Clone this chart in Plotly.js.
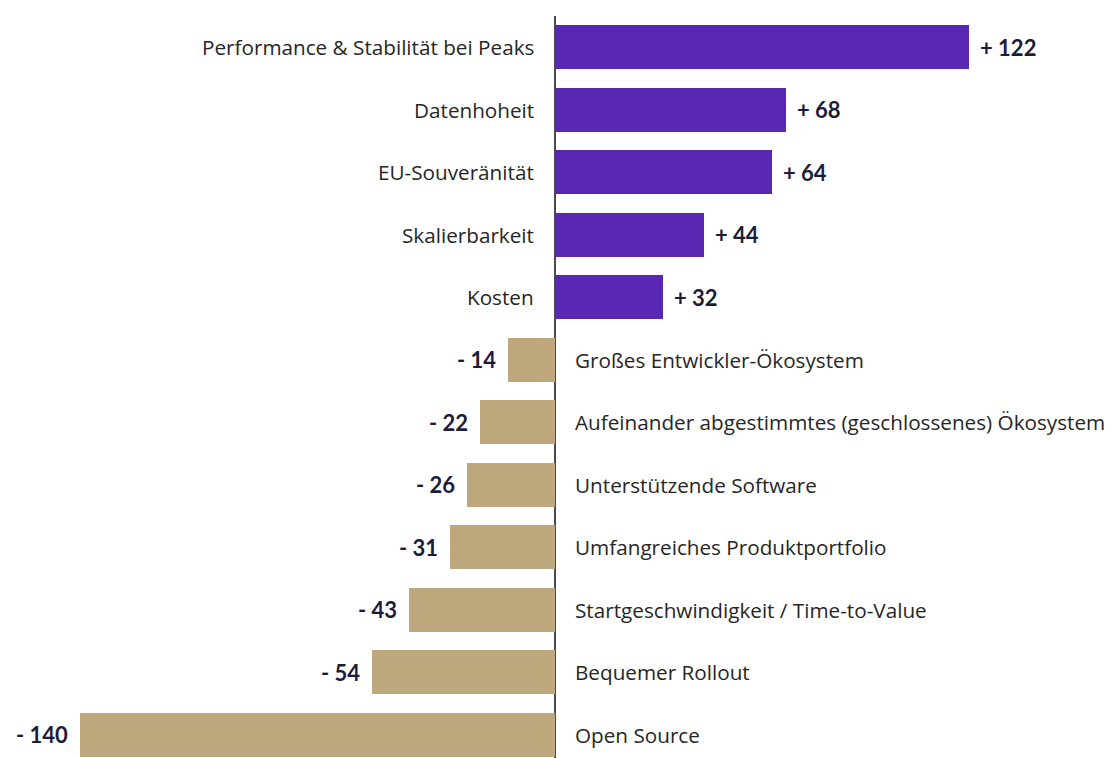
<!DOCTYPE html>
<html>
<head>
<meta charset="utf-8">
<script src="https://cdn.plot.ly/plotly-3.0.1.min.js"></script>
<style>html,body{margin:0;padding:0;background:#fff;}#chart{width:1112px;height:758px;}</style>
</head>
<body>
<div id="chart"></div>
<script>
const categories = [
  "Performance & Stabilität bei Peaks",
  "Datenhoheit",
  "EU-Souveränität",
  "Skalierbarkeit",
  "Kosten",
  "Großes Entwickler-Ökosystem",
  "Aufeinander abgestimmtes (geschlossenes) Ökosystem",
  "Unterstützende Software",
  "Umfangreiches Produktportfolio",
  "Startgeschwindigkeit / Time-to-Value",
  "Bequemer Rollout",
  "Open Source"
];
const values = [122, 68, 64, 44, 32, -14, -22, -26, -31, -43, -54, -140];
const valueLabels = ["+ 122", "+ 68", "+ 64", "+ 44", "+ 32", "- 14", "- 22", "- 26", "- 31", "- 43", "- 54", "- 140"];

const purple = "#5a26b4";
const tan = "#bfa77d";
const idx = categories.map((c, i) => i);

const trace = {
  type: "bar",
  orientation: "h",
  x: values,
  y: idx,
  width: 0.7,
  marker: { color: values.map(v => v >= 0 ? purple : tan), line: { width: 0 } },
  hoverinfo: "skip"
};

const annotations = [];
categories.forEach((c, i) => {
  const v = values[i];
  annotations.push({
    x: 0, y: i, xref: "x", yref: "y",
    text: c, showarrow: false,
    xanchor: v >= 0 ? "right" : "left",
    xshift: v >= 0 ? -19 : 18,
    font: { family: "Open Sans, sans-serif", size: 20.7, color: "#262626" }
  });
  annotations.push({
    x: v, y: i, xref: "x", yref: "y",
    text: valueLabels[i], showarrow: false,
    xanchor: v >= 0 ? "left" : "right",
    xshift: v >= 0 ? 9 : -10,
    font: { family: "Lato, sans-serif", size: 22, color: "#1c1b3a", weight: 700 }
  });
});

const layout = {
  width: 1112, height: 758,
  margin: { l: 0, r: 0, t: 16, b: 0 },
  paper_bgcolor: "#fff", plot_bgcolor: "#fff",
  showlegend: false,
  xaxis: { range: [-163.7, 164.3], showgrid: false, zeroline: true, zerolinecolor: "#4a4a5a", zerolinewidth: 1.5, showticklabels: false, ticks: "", fixedrange: true },
  yaxis: { range: [11.372, -0.5], showgrid: false, zeroline: false, showticklabels: false, ticks: "", fixedrange: true },
  annotations: annotations,
  bargap: 0
};

Plotly.newPlot("chart", [trace], layout, { displayModeBar: false, staticPlot: true });
</script>
</body>
</html>
